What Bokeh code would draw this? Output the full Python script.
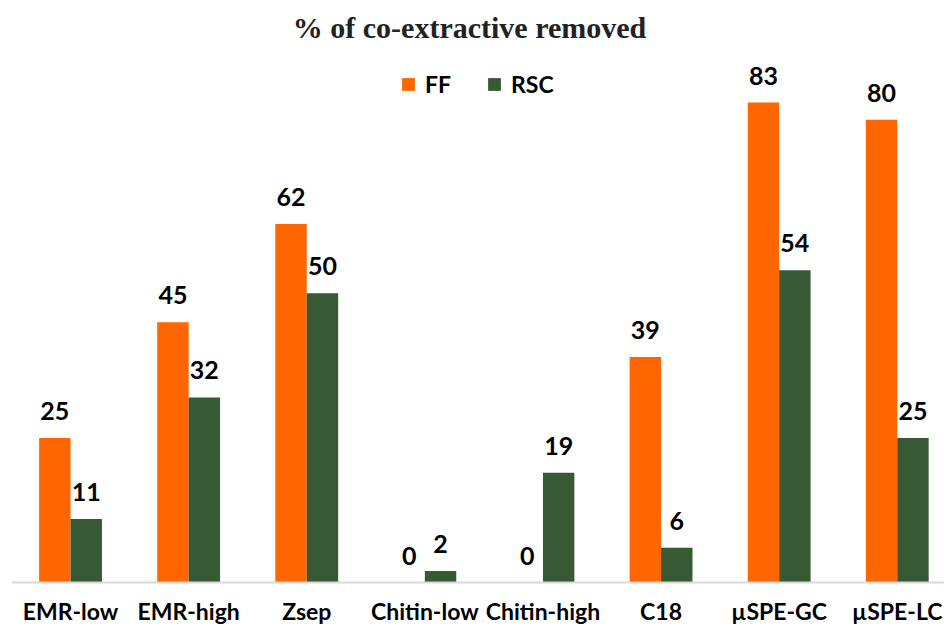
from bokeh.plotting import figure
from bokeh.models import ColumnDataSource, Range1d, Label, Legend, LegendItem, Span
from bokeh.transform import dodge
from bokeh.core.properties import value
from bokeh.embed import file_html
from bokeh.resources import INLINE

categories = ["EMR-low", "EMR-high", "Zsep", "Chitin-low", "Chitin-high", "C18", "\u00b5SPE-GC", "\u00b5SPE-LC"]
ff = [25, 45, 62, 0, 0, 39, 83, 80]
rsc = [11, 32, 50, 2, 19, 6, 54, 25]

FF_COLOR = "#FF6600"
RSC_COLOR = "#375A35"
LABEL_FONT = "Lato"

idx = list(range(len(categories)))
src = ColumnDataSource(dict(x=idx, zero=[0] * len(idx), cat=categories, ff=ff, rsc=rsc,
                            ff_txt=[str(v) for v in ff], rsc_txt=[str(v) for v in rsc]))

p = figure(width=944, height=627, output_backend="svg", toolbar_location=None,
           x_axis_location=None, y_axis_location=None,
           x_range=Range1d(-0.5, 7.40), y_range=Range1d(-7.78, 100.64),
           min_border_left=11, min_border_right=0, min_border_top=0, min_border_bottom=0)
p.outline_line_color = None
p.grid.visible = False

p.add_layout(Span(location=0, dimension="width", line_color="#D9D9D9", line_width=2))

bw = 0.266
off = 0.133
r_ff = p.vbar(x=dodge("x", -off), top="ff", width=bw, source=src, color=FF_COLOR, line_color=None)
r_rsc = p.vbar(x=dodge("x", off), top="rsc", width=bw, source=src, color=RSC_COLOR, line_color=None)

for col, txt, o in (("ff", "ff_txt", -off), ("rsc", "rsc_txt", off)):
    p.text(x=dodge("x", o), y=col, text=txt, source=src, text_align="center",
           text_baseline="alphabetic", y_offset=-27, text_font=value(LABEL_FONT),
           text_font_style="bold", text_font_size="25px", text_color="black")

# category labels under the baseline
p.text(x="x", y="zero", text="cat", source=src, text_align="center", text_baseline="alphabetic",
       y_offset=28, text_font=value(LABEL_FONT), text_font_style="bold", text_font_size="23px",
       text_color="black")

title = Label(x=458, y=600, x_units="screen", y_units="screen", text="% of co-extractive removed",
              text_font="Liberation Serif", text_font_style="bold", text_font_size="30px",
              text_align="center", text_baseline="middle", text_color="#222222")
p.add_layout(title)

legend = Legend(items=[LegendItem(label="FF", renderers=[r_ff]), LegendItem(label="RSC", renderers=[r_rsc])],
                orientation="horizontal", location=(389, 529), padding=0, margin=0, spacing=35,
                glyph_width=16, glyph_height=16, label_standoff=9,
                label_text_font=LABEL_FONT, label_text_font_style="bold", label_text_font_size="23px",
                label_text_color="black", border_line_color=None, background_fill_alpha=0)
p.add_layout(legend)

open("out.html", "w").write(file_html(p, INLINE))
